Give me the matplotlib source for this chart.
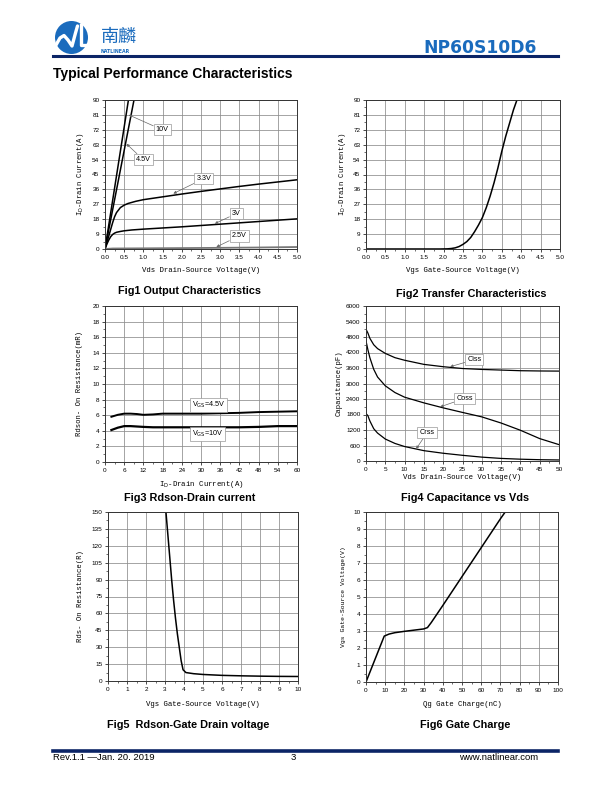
import matplotlib
matplotlib.use("Agg")
import matplotlib.pyplot as plt
from matplotlib.ticker import AutoMinorLocator, FixedLocator
from matplotlib.patches import Ellipse
from matplotlib.lines import Line2D

# ---------------- data ----------------
# Fig1 output characteristics
f1_vds_10v = [0.0, 0.61]
f1_id_10v = [0, 90]
f1_vds_45v = [0.0, 0.755]
f1_id_45v = [0, 90]
f1_vds_33v = [0, 0.05, 0.1, 0.15, 0.2, 0.25, 0.3, 0.4, 0.5, 0.6, 0.8, 1.0, 1.5, 2.0, 2.5, 3.0, 3.5, 4.0, 4.5, 5.0]
f1_id_33v = [0, 4, 8, 12, 16, 19.5, 22, 25, 26.5, 27.5, 28.8, 29.8, 31.5, 33.2, 34.8, 36.3, 37.8, 39.2, 40.5, 41.8]
f1_vds_3v = [0, 0.05, 0.1, 0.15, 0.2, 0.25, 0.3, 0.4, 0.5, 0.7, 1.0, 1.5, 2.0, 2.5, 3.0, 3.5, 4.0, 4.5, 5.0]
f1_id_3v = [0, 3, 5.5, 7.5, 8.8, 9.6, 10.1, 10.6, 11, 11.5, 12, 12.7, 13.4, 14.2, 15, 15.8, 16.6, 17.4, 18.2]
f1_vds_25v = [0, 0.2, 1, 2, 3, 4, 5]
f1_id_25v = [0, 0.3, 0.4, 0.55, 0.7, 0.9, 1.2]

# Fig2 transfer characteristics
f2_vgs = [0, 1.9, 2.1, 2.2, 2.3, 2.4, 2.5, 2.6, 2.7, 2.8, 2.9, 3.0, 3.1, 3.2, 3.3, 3.4, 3.5, 3.6, 3.7, 3.8, 3.89]
f2_id = [0, 0, 0.1, 0.3, 0.7, 1.5, 2.8, 4.5, 7, 10.5, 14.5, 19, 25, 32, 40, 49, 59, 68, 76, 84, 90]

# Fig3 Rdson vs drain current
f3_id = [2, 4, 6, 8, 10, 12, 15, 18, 24, 30, 36, 42, 48, 54, 60]
f3_r45 = [5.8, 6.05, 6.2, 6.2, 6.15, 6.05, 6.1, 6.2, 6.2, 6.2, 6.25, 6.3, 6.4, 6.45, 6.5]
f3_r10 = [4.1, 4.4, 4.6, 4.6, 4.55, 4.5, 4.45, 4.45, 4.45, 4.45, 4.45, 4.45, 4.5, 4.6, 4.6]

# Fig4 capacitance vs Vds
f4_vds = [0, 0.5, 1, 2, 3, 5, 7.5, 10, 15, 20, 25, 30, 35, 40, 45, 50]
f4_ciss = [5100, 4950, 4750, 4500, 4350, 4165, 4000, 3900, 3740, 3650, 3580, 3545, 3520, 3495, 3485, 3480]
f4_coss = [4650, 4300, 4000, 3550, 3250, 2910, 2650, 2470, 2250, 2057, 1880, 1708, 1470, 1190, 867, 634]
f4_crss = [1840, 1750, 1550, 1250, 1080, 850, 680, 560, 400, 300, 220, 150, 100, 70, 50, 40]

# Fig5 Rdson vs Vgs
f5_vgs = [3.05, 3.15, 3.25, 3.35, 3.45, 3.55, 3.65, 3.75, 3.85, 3.95, 4.1, 4.5, 5, 6, 7, 8, 9, 10]
f5_r = [150, 130, 110, 90, 72, 56, 42, 30, 18, 10, 7.5, 6.5, 5.8, 5.0, 4.6, 4.3, 4.1, 4.0]

# Fig6 gate charge
f6_qg = [0, 9.5, 12, 15, 20, 25, 30, 32, 34, 40, 50, 60, 70, 72.5]
f6_vgs = [0, 2.7, 2.82, 2.9, 2.98, 3.05, 3.12, 3.2, 3.5, 4.5, 6.2, 7.9, 9.6, 10]

# ---------------- figure ----------------
W, H = 612, 792
fig = plt.figure(figsize=(W / 100, H / 100), dpi=100)
fig.patch.set_facecolor("white")

def fx(px):
    return px / W

def fy(py):
    return 1 - py / H

AXBOX = {}

def add_axes(l, r, t, b):
    ax = fig.add_axes([fx(l), fy(b), fx(r) - fx(l), (b - t) / H])
    AXBOX[ax] = (l, r, t, b)
    return ax

MONO = "Liberation Mono"
SANS = "Liberation Sans"
GRID = "#8c8c8c"

def style(ax, xlim, xticks, xlabels, ylim, yticks, ylabels, xlab, ylab,
          xlab_y, ylab_x, ylab_size=5.2):
    ax.set_xlim(*xlim)
    ax.set_ylim(*ylim)
    ax.xaxis.set_major_locator(FixedLocator(xticks))
    ax.yaxis.set_major_locator(FixedLocator(yticks))
    ax.set_xticklabels(xlabels, fontsize=4.6, family=SANS)
    ax.set_yticklabels(ylabels, fontsize=4.6, family=SANS)
    ax.xaxis.set_minor_locator(AutoMinorLocator(2))
    ax.yaxis.set_minor_locator(AutoMinorLocator(2))
    ax.tick_params(which="major", direction="out", length=2.5, width=0.5, pad=1.5)
    ax.tick_params(which="minor", direction="out", length=1.3, width=0.4)
    ax.grid(True, which="major", color=GRID, linewidth=0.55)
    ax.set_axisbelow(True)
    for s in ax.spines.values():
        s.set_linewidth(0.7)
        s.set_color("#333333")
    l, r, t, b = AXBOX[ax]
    fig.text(fx((l + r) / 2), fy(xlab_y), xlab, fontsize=5.3, family=MONO,
             ha="center", va="center")
    fig.text(fx(ylab_x), fy((t + b) / 2), ylab, fontsize=ylab_size, family=MONO,
             ha="center", va="center", rotation=90)

def label_box(ax, text, xy_text, xy_arrow, size=5.2):
    ax.annotate(text, xy=xy_arrow, xytext=xy_text, fontsize=size, family=SANS,
                ha="left", va="center",
                bbox=dict(boxstyle="square,pad=0.3", fc="white", ec="#999999", lw=0.5),
                arrowprops=dict(arrowstyle="-|>", color="#666666", lw=0.5,
                                mutation_scale=4, shrinkA=0, shrinkB=0))

def fmt1(vals):
    return ["%.1f" % v for v in vals]

def fmti(vals):
    return ["%d" % v for v in vals]

# ---- Fig1
ax1 = add_axes(105, 297, 100, 249)
xt = [i * 0.5 for i in range(11)]
yt = list(range(0, 91, 9))
style(ax1, (0, 5), xt, fmt1(xt), (0, 90), yt, fmti(yt),
      "Vds Drain-Source Voltage(V)", r"I$_\mathrm{D}$-Drain Current(A)", 271, 81)
ax1.plot(f1_vds_10v, f1_id_10v, color="black", lw=1.1)
ax1.plot(f1_vds_45v, f1_id_45v, color="black", lw=1.1)
ax1.plot(f1_vds_33v, f1_id_33v, color="black", lw=1.1)
ax1.plot(f1_vds_3v, f1_id_3v, color="black", lw=1.1)
ax1.plot(f1_vds_25v, f1_id_25v, color="#777777", lw=1.3)
label_box(ax1, "10V", (1.32, 72), (0.62, 81))
label_box(ax1, "4.5V", (0.8, 54), (0.56, 63.5))
label_box(ax1, "3.3V", (2.38, 42.5), (1.78, 33.5))
label_box(ax1, "3V", (3.3, 21.4), (2.86, 15.3))
label_box(ax1, "2.5V", (3.3, 7.9), (2.9, 1.2))

# ---- Fig2
ax2 = add_axes(366, 560, 100, 249)
style(ax2, (0, 5), xt, fmt1(xt), (0, 90), yt, fmti(yt),
      "Vgs Gate-Source Voltage(V)", r"I$_\mathrm{D}$-Drain Current(A)", 271, 342)
ax2.plot(f2_vgs, f2_id, color="black", lw=1.1)

# ---- Fig3
ax3 = add_axes(105, 297, 306, 462)
xt3 = list(range(0, 61, 6))
yt3 = list(range(0, 21, 2))
style(ax3, (0, 60), xt3, fmti(xt3), (0, 20), yt3, fmti(yt3),
      r"I$_\mathrm{D}$-Drain Current(A)", "Rdson- On Resistance(mR)", 484, 79)
ax3.plot(f3_id, f3_r45, color="black", lw=1.4)
ax3.plot(f3_id, f3_r10, color="black", lw=1.6)
ax3.text(27.2, 7.35, r"V$_\mathrm{GS}$=4.5V", fontsize=5.2, family=SANS, va="center",
         bbox=dict(boxstyle="square,pad=0.25", fc="white", ec="#999999", lw=0.5))
ax3.text(27.2, 3.55, r"V$_\mathrm{GS}$=10V", fontsize=5.2, family=SANS, va="center",
         bbox=dict(boxstyle="square,pad=0.25", fc="white", ec="#999999", lw=0.5))

# ---- Fig4
ax4 = add_axes(366, 559, 306, 461)
xt4 = list(range(0, 51, 5))
yt4 = list(range(0, 6001, 600))
style(ax4, (0, 50), xt4, fmti(xt4), (0, 6000), yt4, fmti(yt4),
      "Vds Drain-Source Voltage(V)", "Capacitance(pF)", 478, 339)
ax4.plot(f4_vds, f4_ciss, color="black", lw=0.9)
ax4.plot(f4_vds, f4_coss, color="black", lw=0.9)
ax4.plot(f4_vds, f4_crss, color="black", lw=0.9)
label_box(ax4, "Ciss", (26.2, 3920), (21.8, 3650))
label_box(ax4, "Coss", (23.4, 2420), (19.2, 2095))
label_box(ax4, "Crss", (13.9, 1100), (13.0, 470))

# ---- Fig5
ax5 = add_axes(108, 298, 512, 681)
xt5 = list(range(0, 11))
yt5 = list(range(0, 151, 15))
style(ax5, (0, 10), xt5, fmti(xt5), (0, 150), yt5, fmti(yt5),
      "Vgs Gate-Source Voltage(V)", "Rds- On Resistance(R)", 704, 81)
ax5.plot(f5_vgs, f5_r, color="black", lw=1.1)

# ---- Fig6
ax6 = add_axes(366, 558, 512, 682)
xt6 = list(range(0, 101, 10))
yt6 = list(range(0, 11))
style(ax6, (0, 100), xt6, fmti(xt6), (0, 10), yt6, fmti(yt6),
      "Qg Gate Charge(nC)", "Vgs Gate-Source Voltage(V)", 704, 343, ylab_size=4.6)
ax6.plot(f6_qg, f6_vgs, color="black", lw=1.1)

# ---- captions
cap = dict(fontsize=7.8, family=SANS, weight="bold", ha="center", va="center")
fig.text(fx(190), fy(291), "Fig1 Output Characteristics", **cap)
fig.text(fx(471), fy(294), "Fig2 Transfer Characteristics", **cap)
fig.text(fx(190), fy(498), "Fig3 Rdson-Drain current", **cap)
fig.text(fx(465), fy(498), "Fig4 Capacitance vs Vds", **cap)
fig.text(fx(188), fy(725), "Fig5  Rdson-Gate Drain voltage", **cap)
fig.text(fx(465), fy(725), "Fig6 Gate Charge", **cap)

# ---- header
NAVY = "#0b2466"
BLUE = "#1a6bbd"
fig.add_artist(Line2D([fx(53), fx(558)], [fy(55.5), fy(55.5)], color=NAVY, lw=2.2))
fig.text(fx(537), fy(48), "NP60S10D6", fontsize=12.3, family="DejaVu Sans",
         weight="bold", color=BLUE, ha="right", va="center")
fig.text(fx(53), fy(74), "Typical Performance Characteristics", fontsize=10,
         family=SANS, weight="bold", ha="left", va="center")
# logo
fig.add_artist(Ellipse((fx(71.5), fy(37.5)), 33 / W, 33 / H, transform=fig.transFigure,
                       facecolor=BLUE, edgecolor="none"))
logo_x = [56, 60, 64, 68, 72, 75.5, 77.5]
logo_y = [45, 38, 35.5, 40, 46, 33, 26]
fig.add_artist(Line2D([fx(v) for v in logo_x], [fy(v) for v in logo_y],
                      color="white", lw=2.4, solid_capstyle="round"))
fig.add_artist(Line2D([fx(81), fx(81), fx(90)], [fy(25), fy(45), fy(45)],
                      color="white", lw=2.4))
fig.text(fx(101), fy(37), "南麟", fontsize=13, family=["Noto Sans CJK SC", "DejaVu Sans"],
         color=BLUE, ha="left", va="center")
fig.text(fx(101), fy(51.5), "NATLINEAR", fontsize=3.4, family="DejaVu Sans",
         weight="bold", color=BLUE, ha="left", va="center")

# ---- footer
fig.add_artist(Line2D([fx(53), fx(558)], [fy(751), fy(751)], color=NAVY, lw=2.6))
fig.text(fx(53), fy(758), "Rev.1.1 \u2014Jan. 20. 2019", ha="left", va="center",
         fontsize=6.8, family=[SANS, "Noto Sans CJK SC"])
fig.text(fx(293), fy(758), "3", ha="center", va="center", fontsize=6.8, family=SANS)
fig.text(fx(538), fy(758), "www.natlinear.com", ha="right", va="center",
         fontsize=6.8, family=SANS)

fig.savefig("out.png", dpi=100)
